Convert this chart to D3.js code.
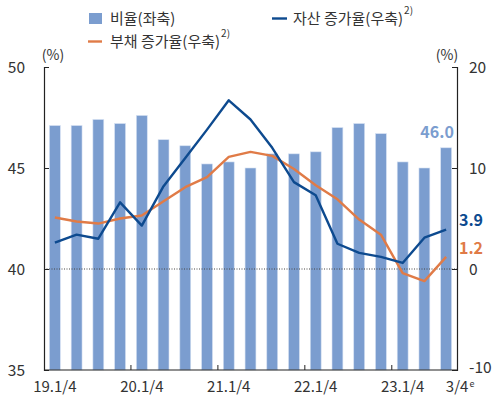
<!DOCTYPE html>
<html>
<head>
<meta charset="utf-8">
<script src="https://cdn.jsdelivr.net/npm/d3@7"></script>
<style>
  body { margin: 0; background: #fff; }
  svg text { font-family: "Noto Sans CJK KR", "Noto Sans", sans-serif; fill: #333; }
</style>
</head>
<body>
<svg id="chart" width="495" height="403"></svg>
<script>
// quarters 19.1 .. 23.3
const quarters = ["19.1","19.2","19.3","19.4","20.1","20.2","20.3","20.4",
  "21.1","21.2","21.3","21.4","22.1","22.2","22.3","22.4","23.1","23.2","23.3"];
// 비율 (left axis, %)
const ratio = [47.1, 47.1, 47.4, 47.2, 47.6, 46.4, 46.1, 45.2, 45.3, 45.0,
  45.7, 45.7, 45.8, 47.0, 47.2, 46.7, 45.3, 45.0, 46.0];
// 자산 증가율 (right axis, %)
const assetGrowth = [2.6, 3.4, 3.0, 6.6, 4.3, 8.2, 11.0, 13.8, 16.7, 14.8,
  12.0, 8.6, 7.3, 2.5, 1.6, 1.2, 0.6, 3.1, 3.9];
// 부채 증가율 (right axis, %)
const debtGrowth = [5.1, 4.7, 4.5, 5.0, 5.3, 6.7, 8.1, 9.1, 11.1, 11.6,
  11.2, 9.9, 8.3, 6.9, 4.9, 3.4, -0.4, -1.2, 1.2];
const leftTicks = [35, 40, 45, 50];
const rightTicks = [-10, 0, 10, 20];
const xLabels = { "19.1": "19.1/4", "20.1": "20.1/4", "21.1": "21.1/4", "22.1": "22.1/4", "23.1": "23.1/4" };

const barColor = "#7b9dcf";
const assetColor = "#0d4a8f";
const debtColor = "#e07b47";

const svg = d3.select("#chart");
const plotL = 44, plotR = 457, plotT = 67, plotB = 370;

const x = d3.scaleBand().domain(quarters).range([plotL, plotR])
  .paddingInner(0.5).paddingOuter(0.25);
const step = x.step();
const yL = d3.scaleLinear().domain([35, 50]).range([plotB, plotT]);
const yR = d3.scaleLinear().domain([-10, 20]).range([plotB, plotT]);

// bars
svg.append("g").selectAll("rect")
  .data(quarters)
  .join("rect")
  .attr("x", d => x(d))
  .attr("width", x.bandwidth())
  .attr("y", (d, i) => yL(ratio[i]))
  .attr("height", (d, i) => plotB - yL(ratio[i]))
  .attr("fill", barColor)
  .attr("stroke", "#d4e0f2")
  .attr("stroke-width", 0.6);

// zero line (dotted)
svg.append("line")
  .attr("x1", plotL).attr("x2", plotR)
  .attr("y1", yR(0)).attr("y2", yR(0))
  .attr("stroke", "#444").attr("stroke-width", 1)
  .attr("stroke-dasharray", "1,1.5");

// lines
const line = vals => d3.line()
  .x((d, i) => x(quarters[i]) + x.bandwidth() / 2)
  .y(d => yR(d))(vals);

svg.append("path").attr("d", line(debtGrowth))
  .attr("fill", "none").attr("stroke", debtColor).attr("stroke-width", 2.4)
  .attr("stroke-linejoin", "round");
svg.append("path").attr("d", line(assetGrowth))
  .attr("fill", "none").attr("stroke", assetColor).attr("stroke-width", 2.4)
  .attr("stroke-linejoin", "round");

// axes
const axisL = svg.append("g").attr("transform", `translate(${plotL},0)`)
  .call(d3.axisRight(yL).tickValues(leftTicks).tickSize(5).tickFormat(""));
const axisR = svg.append("g").attr("transform", `translate(${plotR},0)`)
  .call(d3.axisLeft(yR).tickValues(rightTicks).tickSize(5).tickFormat(""));
const axisB = svg.append("g").attr("transform", `translate(0,${plotB})`)
  .call(d3.axisTop(x).tickValues(["20.1","21.1","22.1","23.1"]).tickSize(5).tickFormat(""));
axisB.selectAll(".tick").attr("transform", d => `translate(${x(d) - (step - x.bandwidth()) / 2},0)`);
[axisL, axisR, axisB].forEach(a => {
  a.select(".domain").attr("stroke", "#222").attr("stroke-width", 1.2);
  a.selectAll(".tick line").attr("stroke", "#222");
});
axisB.select(".domain").attr("d", `M${plotL},0H${plotR}`);

// tick labels
svg.append("g").selectAll("text").data(leftTicks).join("text")
  .attr("x", 25).attr("y", d => yL(d) + 6)
  .attr("text-anchor", "end").attr("font-size", 15.5).text(d => d);
svg.append("g").selectAll("text").data(rightTicks).join("text")
  .attr("x", 469).attr("y", d => yR(d) + (d === -10 ? 3 : 6))
  .attr("font-size", 15.5).text(d => d);

svg.append("g").selectAll("text").data(Object.keys(xLabels)).join("text")
  .attr("x", d => x(d) + x.bandwidth() / 2).attr("y", 392)
  .attr("text-anchor", "middle").attr("font-size", 15).text(d => xLabels[d]);
const lastLbl = svg.append("text")
  .attr("x", x("23.3") + x.bandwidth() / 2 + 14).attr("y", 392)
  .attr("text-anchor", "middle").attr("font-size", 15);
lastLbl.append("tspan").text("3/4");
lastLbl.append("tspan").attr("font-size", 9).attr("dy", -5).attr("dx", 1).text("e");

svg.append("text").attr("x", 53).attr("y", 60).attr("text-anchor", "middle")
  .attr("font-size", 14).text("(%)");
svg.append("text").attr("x", 447).attr("y", 60).attr("text-anchor", "middle")
  .attr("font-size", 14).text("(%)");

// value labels
const lastX = x("23.3") + x.bandwidth() / 2;
svg.append("text").attr("x", lastX - 9).attr("y", yL(ratio[18]) - 10)
  .attr("text-anchor", "middle").attr("font-size", 16).attr("font-weight", "bold")
  .style("fill", barColor).text(ratio[18].toFixed(1));
svg.append("text").attr("x", 471).attr("y", yR(assetGrowth[18]) - 4)
  .attr("text-anchor", "middle").attr("font-size", 16).attr("font-weight", "bold")
  .style("fill", assetColor).text(assetGrowth[18].toFixed(1));
svg.append("text").attr("x", 471).attr("y", yR(debtGrowth[18]) - 3)
  .attr("text-anchor", "middle").attr("font-size", 16).attr("font-weight", "bold")
  .style("fill", debtColor).text(debtGrowth[18].toFixed(1));

// legend
const legend = svg.append("g");
legend.append("rect").attr("x", 89).attr("y", 13).attr("width", 13).attr("height", 11).attr("fill", barColor);
legend.append("text").attr("x", 110).attr("y", 24).attr("font-size", 15).text("비율(좌축)");

legend.append("line").attr("x1", 272).attr("x2", 287).attr("y1", 18.5).attr("y2", 18.5)
  .attr("stroke", assetColor).attr("stroke-width", 2.4);
const t1 = legend.append("text").attr("x", 293).attr("y", 24).attr("font-size", 15);
t1.append("tspan").text("자산 증가율(우축)");
t1.append("tspan").attr("font-size", 10).attr("dy", -10).attr("dx", 1).text("2)");

legend.append("line").attr("x1", 88).attr("x2", 102).attr("y1", 41.5).attr("y2", 41.5)
  .attr("stroke", debtColor).attr("stroke-width", 2.4);
const t2 = legend.append("text").attr("x", 110).attr("y", 47).attr("font-size", 15);
t2.append("tspan").text("부채 증가율(우축)");
t2.append("tspan").attr("font-size", 10).attr("dy", -10).attr("dx", 1).text("2)");
</script>
</body>
</html>
